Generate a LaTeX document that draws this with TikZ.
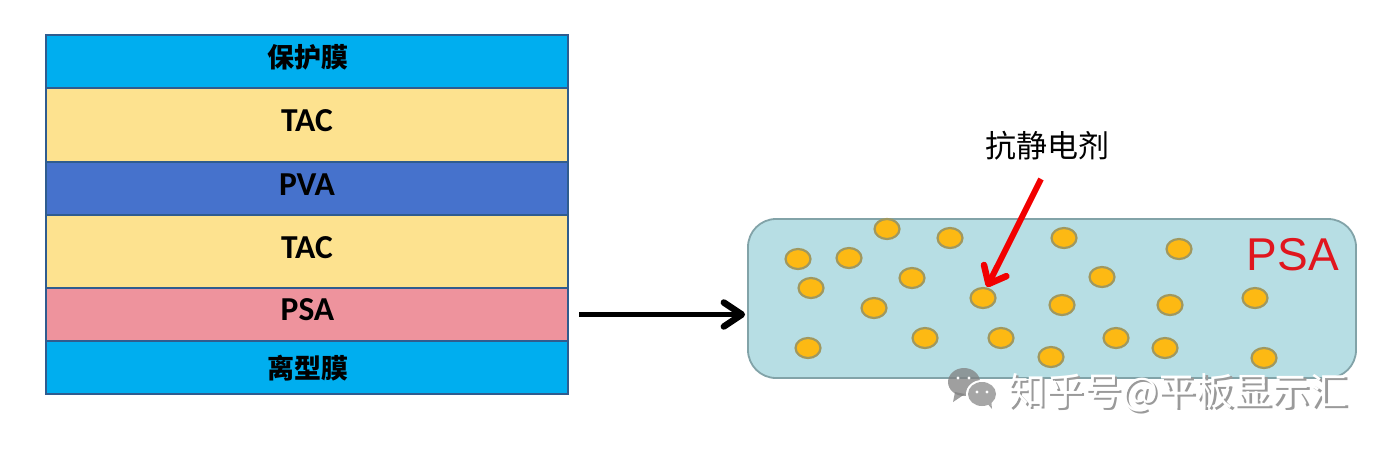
\documentclass[tikz,border=0pt]{standalone}
\usepackage{fontspec}
\setmainfont{Carlito}
\newfontfamily\cjk{Noto Sans CJK SC}
\newfontfamily\arialish{Liberation Sans}
\usetikzlibrary{arrows.meta,shapes.geometric}
\definecolor{cyanlayer}{HTML}{00AEEF}
\definecolor{tanlayer}{HTML}{FDE28F}
\definecolor{bluelayer}{HTML}{4672CC}
\definecolor{pinklayer}{HTML}{EE939D}
\definecolor{layeredge}{HTML}{2F5C8F}
\definecolor{blobfill}{HTML}{B7DEE4}
\definecolor{blobedge}{HTML}{82A3A8}
\definecolor{dotfill}{HTML}{FDB913}
\definecolor{dotedge}{HTML}{A0985F}
\definecolor{wmgray}{HTML}{9A9A9A}
\definecolor{psared}{HTML}{E0161E}
\tikzset{
  x=1pt,y=-1pt,
  layer/.style={draw=layeredge,line width=1.6pt,minimum width=522pt,inner sep=0pt,outer sep=0pt},
  latintext/.style={inner sep=0pt,text=black,font=\bfseries\fontsize{33.5}{33.5}\selectfont},
  cjklabel/.style={inner sep=0pt,text=black,font=\cjk\bfseries\fontsize{27}{27}\selectfont},
  particle/.style={ellipse,draw=dotedge,fill=dotfill,line width=2.2pt,minimum width=25pt,minimum height=20pt,inner sep=0pt},
  wm/.style={font=\cjk\fontsize{38}{38}\selectfont,inner sep=0pt},
}
\begin{document}
\begin{tikzpicture}
\useasboundingbox (0,0) rectangle (1383,451);
\fill[white] (0,0) rectangle (1383,451);
% layers
\node[layer,fill=cyanlayer,minimum height=53pt] (l1) at (307,61.5) {};
\node[layer,fill=tanlayer,minimum height=74pt] (l2) at (307,125) {};
\node[layer,fill=bluelayer,minimum height=53pt] (l3) at (307,188.5) {};
\node[layer,fill=tanlayer,minimum height=73pt] (l4) at (307,251.5) {};
\node[layer,fill=pinklayer,minimum height=53pt] (l5) at (307,314.5) {};
\node[layer,fill=cyanlayer,minimum height=53pt] (l6) at (307,367.5) {};
\node[cjklabel] (t1) at (307.5,57) {保护膜};
\node[latintext] (t2) at (307,120.5) {TAC};
\node[latintext] (t3) at (307,184.5) {PVA};
\node[latintext] (t4) at (307,247.5) {TAC};
\node[latintext] (t5) at (307.5,310) {PSA};
\node[cjklabel] (t6) at (307.5,368) {离型膜};
% PSA blob
\node[draw=blobedge,fill=blobfill,line width=1.8pt,rounded corners=28pt,minimum width=608pt,minimum height=159pt,inner sep=0pt] (blob) at (1052,298.5) {};
\node[text=psared,font=\arialish\fontsize{46}{46}\selectfont,inner sep=0pt] (psalabel) at (1293,255) {PSA};
% particles
\foreach \n/\px/\py in {a/798/259,b/849/258,c/887/229,d/950/238,e/1064/238,f/1179/249,g/811/288,h/912/278,i/1102/277,j/983/298,k/874/308,l/1062/305,m/1170/305,n/1255/298,o/808/348,p/925/338,q/1001/338,r/1116/338,s/1165/348,t/1051/357,u/1264/358}
  \node[particle] (dot\n) at (\px,\py) {};
% annotation
\node[font=\cjk\fontsize{31}{31}\selectfont,text=black,inner sep=0pt] (agent) at (1047,146) {抗静电剂};
\coordinate (redstart) at (1041,179);
\draw[red!95!black,line width=6pt,-{Straight Barb[length=15pt,width=25pt,line width=6.5pt,round]}] (redstart) -- ([xshift=4pt]dotj.north);
% black connector
\draw[black,line width=5.4pt,shorten <=11pt,shorten >=2pt,-{Straight Barb[length=18pt,width=24pt,line width=6.5pt,round]}] (l5.east) -- (l5.east -| blob.west);
% watermark icon
\fill[fill=black!50,opacity=.75] (964,382) ellipse (16pt and 14pt);
\fill[fill=black!50,opacity=.75] (955,392) -- (953,402) -- (965,394) -- cycle;
\fill[fill=white] (958,378) circle (1.6pt) (969,378) circle (1.6pt);
\fill[white] (982,394) ellipse (16pt and 14pt);
\fill[fill=black!35] (982,394) ellipse (14pt and 12pt);
\fill[fill=black!35] (986,402) -- (992,409) -- (991,398) -- cycle;
\fill[fill=white] (977,392) circle (1.6pt) (987,392) circle (1.6pt);
\node[wm,text=wmgray] (wm1) at (1180.5,394.5) {知乎号@平板显示汇};
\node[wm,text=white] (wm2) at (1178,392.5) {知乎号@平板显示汇};
\end{tikzpicture}
\end{document}
